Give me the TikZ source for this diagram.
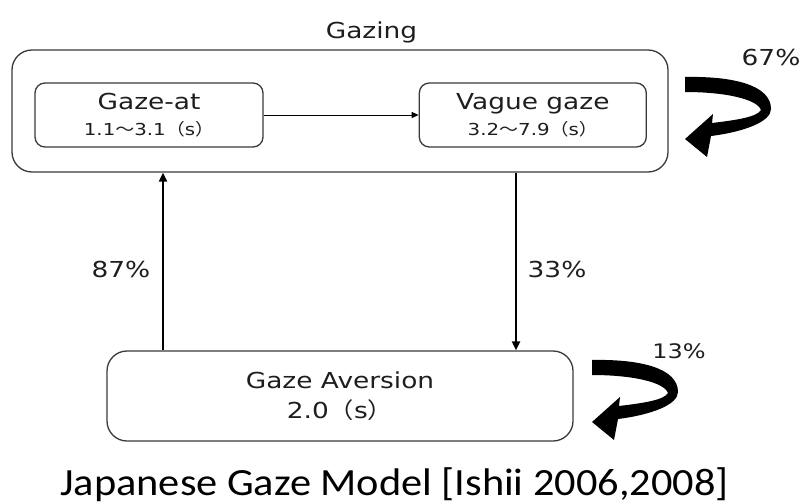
\documentclass[tikz,border=0pt]{standalone}
\usepackage{fontspec}
\setmainfont[FakeStretch=1.2]{DejaVu Sans}
\newfontfamily\jpfont[FakeStretch=1.15]{Noto Sans CJK JP}
\newfontfamily\capfont[FakeStretch=1.1]{Carlito}
\usetikzlibrary{arrows.meta,positioning}

\definecolor{boxgray}{HTML}{3A3A3A}
\definecolor{inkgray}{HTML}{1E1E1E}

\newcommand{\jp}[1]{{\jpfont #1}}
\newcommand{\secs}[1]{{\fontsize{16.5}{16.5}\selectfont #1}}

\tikzset{
	state/.style={draw=boxgray, line width=1.3pt, rounded corners=10pt, text=inkgray,
		minimum width=228pt, minimum height=64pt, inner sep=0pt, align=center,
		font=\fontsize{22}{25}\selectfont},
	group/.style={draw=boxgray, line width=1.3pt, rounded corners=20pt,
		minimum width=656pt, minimum height=122pt, inner sep=0pt},
	flow/.style={-{Triangle[length=9pt,width=8pt]}, line width=2pt, black},
	thinflow/.style={-{Triangle[length=7pt,width=6pt]}, line width=1pt, black},
	rate/.style={text=inkgray, font=\fontsize{22}{22}\selectfont, anchor=base},
	% thick turning arrow for staying in the same state
	loopturn/.pic={
		\fill[black] (0,0) .. controls (48,-1) and (86,8) .. (86,32)
			.. controls (86,45) and (58,55) .. (26,59)
			-- (22,80) -- (0,62) -- (28,37) -- (27,46)
			.. controls (52,43) and (72,40) .. (76,33)
			.. controls (72,22) and (40,15) .. (0,15) -- cycle;
	}
}

\begin{document}
\begin{tikzpicture}[x=1pt, y=-1pt]
	\useasboundingbox (0,0) rectangle (799,503);

	\node [group] (gazing) at (340,111) {};
	\node [rate] (gazingtitle) at (371.5,38) {Gazing};

	\node [state] (gazeat) at (149,115) {Gaze-at\\[1pt]\secs{1.1\jp{～}3.1\jp{（}s\jp{）}}};
	\node [state, minimum width=227pt, right=155pt of gazeat] (vague) {Vague gaze\\[1pt]\secs{3.2\jp{～}7.9\jp{（}s\jp{）}}};

	\node [state, rounded corners=20pt, minimum width=466pt, minimum height=90pt] (aversion) at (340,396)
		{Gaze Aversion\\[5pt]2.0\jp{（}s\jp{）}};

	\coordinate (upx) at (163,0);
	\coordinate (downx) at (516,0);

	\draw [thinflow] (gazeat) -- (vague);
	\draw [flow] (aversion.north -| upx) -- (gazing.south -| upx);
	\draw [flow] (gazing.south -| downx) -- (aversion.north -| downx);

	\node [rate] (upvalue) at (121,277) {87\%};
	\node [rate] (downvalue) at (557,277) {33\%};

	\pic at (685,77) {loopturn};
	\node [rate] (stayvalue) at (771,65) {67\%};
	\pic at (592,360) {loopturn};
	\node [rate, font=\fontsize{20}{20}\selectfont] (backvalue) at (679,358) {13\%};

	\node [anchor=base, font=\capfont\fontsize{38.5}{40}\selectfont] (caption) at (394.5,495)
		{Japanese Gaze Model [Ishii 2006,2008]};
\end{tikzpicture}
\end{document}
